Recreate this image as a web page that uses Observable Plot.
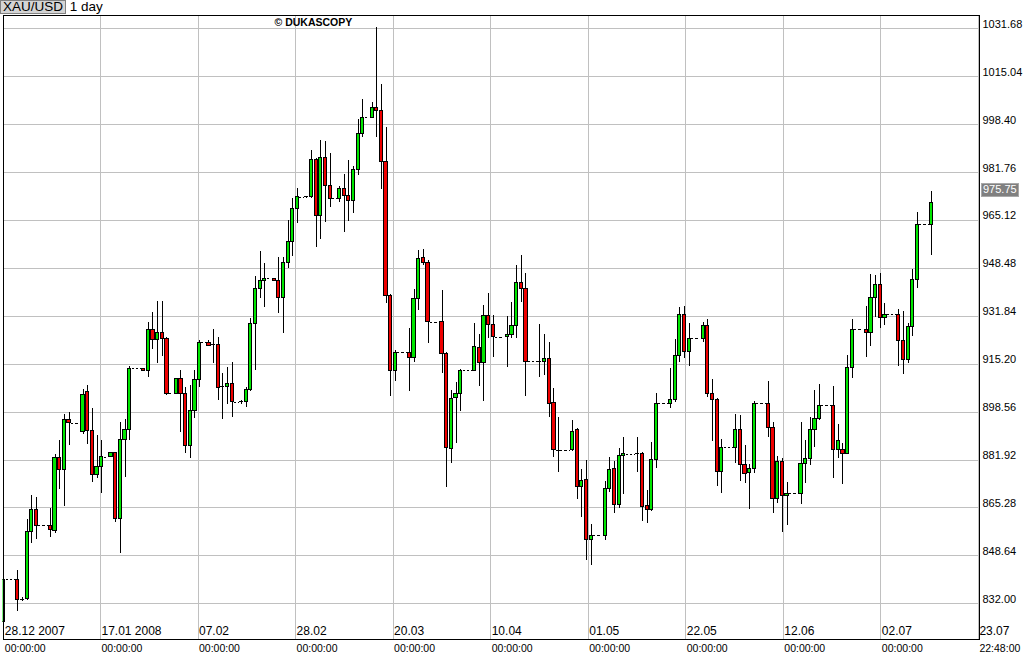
<!DOCTYPE html>
<html>
<head>
<meta charset="utf-8">
<script src="https://cdn.jsdelivr.net/npm/d3@7"></script>
<script src="https://cdn.jsdelivr.net/npm/@observablehq/plot@0.6"></script>
<style>
  html, body { margin: 0; padding: 0; background: #fff; }
  body { width: 1024px; height: 657px; overflow: hidden; font-family: "Liberation Sans", Arial, sans-serif; }
  #title { height: 14px; line-height: 12px; font-size: 13.5px; color: #000; white-space: nowrap; }
  #title .sym { display: inline-block; background: #d4d4d4; border: 1px solid #808080; padding: 0 2px; height: 12px; line-height: 12px; }
  #chart svg { display: block; }
</style>
</head>
<body>
<div id="title"><span class="sym">XAU/USD</span> 1 day</div>
<div id="chart"></div>
<script>
// Daily slots from 28.12.2007 (slot 0) to 14.07.2008 (slot 199); weekend slots are flat
const firstDay = "28.12 2007";
const open = [
825.6,840.4,840.4,840.4,833.4,833.6,857.0,864.75,859.1,859.1,
859.1,857.2,882.7,878.5,895.9,894.7,894.7,891.6,905.5,892.1,
876.9,879.6,882.9,882.9,884.2,861.5,889.0,892.4,913.6,913.6,
913.6,912.8,927.15,923.7,926.1,924.0,904.9,904.9,910.1,904.9,
886.7,899.1,909.55,922.6,922.6,921.5,921.9,907.0,907.2,908.4,
902.0,902.0,902.1,906.1,929.0,941.4,944.0,944.9,944.9,944.0,
938.3,950.4,957.8,969.2,973.2,973.2,973.2,986.2,966.6,986.9,
977.0,972.6,972.6,976.1,973.5,971.8,982.7,995.2,1000.8,1000.8,
1004.2,1003.1,985.35,938.8,912.8,919.2,919.2,919.2,917.4,937.9,
952.1,950.4,929.8,929.8,929.8,918.8,885.8,903.5,904.9,913.0,
913.0,913.0,920.9,915.6,932.0,928.9,924.6,924.6,924.6,925.4,
928.5,943.5,941.4,916.1,916.1,916.1,916.1,917.1,901.8,885.5,
885.4,885.4,885.4,892.2,872.5,875.1,854.2,855.7,855.7,855.7,
871.7,878.8,866.4,883.3,884.0,884.0,884.0,884.1,866.0,864.6,
881.8,901.45,901.45,901.45,902.85,917.9,932.4,919.6,924.0,924.0,
924.0,928.3,904.9,902.8,877.8,886.2,886.2,886.2,892.4,880.3,
877.35,878.9,901.45,901.45,901.45,893.1,868.5,881.2,869.3,870.2,
870.2,870.2,880.6,882.4,892.2,896.2,900.8,900.8,900.8,885.5,
885.5,884.1,914.0,927.15,927.15,927.15,926.1,938.3,942.8,931.3,
932.4,932.4,932.4,923.1,916.5,928.1,944.3,963.6,963.6,963.6
];
const high = [
840.6,840.4,840.4,843.6,834.3,861.3,869.6,868.9,859.1,859.1,
865.2,883.9,888.7,897.7,898.4,894.7,894.7,906.5,907.9,899.7,
890.4,888.7,882.9,884.4,884.5,894.9,896.0,914.4,913.6,913.6,
913.6,929.8,933.2,937.0,937.0,924.5,904.9,910.3,913.0,907.2,
907.8,913.0,923.4,922.6,923.4,927.15,924.6,912.0,914.0,915.9,
902.0,902.6,907.2,931.0,945.7,954.3,950.1,944.9,944.9,952.4,
952.4,965.1,972.6,976.1,973.2,973.6,989.4,986.6,992.9,992.6,
988.3,972.6,976.9,981.1,985.9,983.9,1000.1,1007.1,1000.8,1006.2,
1032.0,1012.3,997.3,939.5,920.0,919.2,919.2,927.7,941.0,954.7,
955.0,951.2,929.8,929.8,940.8,919.3,906.1,908.7,913.5,913.0,
913.0,929.4,925.5,935.6,939.9,932.0,924.6,924.6,931.8,936.7,
949.5,953.0,946.6,916.1,916.1,929.0,925.5,922.6,906.7,896.8,
885.4,885.4,895.7,892.8,878.5,881.8,859.5,855.7,855.7,874.5,
882.9,881.4,885.8,889.6,884.0,884.0,889.6,884.5,871.3,888.1,
904.9,901.45,901.45,913.6,923.7,934.8,935.3,929.3,924.0,924.0,
929.6,930.7,909.8,903.3,889.0,886.2,886.2,897.7,897.4,887.0,
880.4,902.4,901.45,901.45,909.3,894.9,883.1,882.4,874.2,870.2,
870.2,894.9,888.7,896.6,906.0,908.2,900.8,900.8,907.5,894.3,
887.6,918.2,930.6,927.15,927.15,935.3,946.4,946.0,946.6,936.2,
932.4,932.4,934.1,933.5,929.3,948.0,968.0,963.6,963.6,975.2
];
const low = [
825.6,840.4,840.4,829.4,832.8,833.2,853.0,854.2,859.1,859.1,
855.1,856.5,871.8,865.8,887.1,894.7,894.7,890.9,887.3,874.2,
875.6,870.2,882.9,882.9,860.3,849.4,876.0,888.7,913.6,913.6,
912.8,910.7,920.2,915.6,918.0,904.5,904.9,904.7,891.6,884.3,
882.4,896.2,907.2,922.6,921.5,915.6,902.6,896.0,901.3,896.8,
902.0,901.2,900.2,905.8,913.0,937.9,935.0,944.9,944.0,932.7,
926.0,948.5,952.6,964.2,973.2,972.9,972.6,955.8,958.5,964.3,
969.5,972.6,971.2,960.8,964.9,967.6,980.7,993.8,1000.8,1000.6,
993.8,975.9,936.4,904.0,909.3,919.2,919.2,905.8,915.9,933.9,
949.5,922.5,929.8,929.8,912.1,872.5,880.8,887.6,898.9,913.0,
913.0,912.8,907.5,902.4,924.0,917.4,924.6,924.6,914.0,924.0,
924.0,936.7,904.1,916.1,916.1,910.7,911.3,896.6,882.7,877.7,
885.4,885.4,885.0,868.1,861.9,847.0,845.3,855.7,855.7,854.0,
870.7,863.3,865.0,869.9,884.0,884.0,877.5,860.6,859.8,864.0,
879.1,901.45,901.45,899.9,902.0,915.9,917.1,914.5,924.0,924.0,
922.6,903.8,888.5,872.8,870.4,886.2,886.2,880.8,874.6,873.7,
864.6,877.2,901.45,901.45,889.6,863.5,867.0,856.9,859.2,870.2,
870.2,866.5,873.7,880.0,886.4,895.6,900.8,900.8,875.4,882.4,
873.4,883.8,910.1,927.15,927.15,917.6,921.5,931.5,927.5,928.6,
932.4,932.4,914.5,911.6,915.3,924.8,941.4,963.6,963.6,953.0
];
const close = [
840.4,840.4,840.4,833.4,833.6,857.1,864.75,859.1,859.1,859.1,
857.5,882.7,878.5,895.9,894.7,894.7,894.7,904.5,892.1,876.9,
879.6,882.9,882.9,884.2,861.5,889.0,892.4,913.6,913.6,913.6,
912.8,927.15,923.7,926.1,924.0,904.9,904.9,910.1,904.9,886.7,
899.1,909.55,922.6,922.6,921.5,921.9,907.0,907.3,908.4,902.0,
902.0,902.1,906.1,929.0,941.4,944.0,944.9,944.9,944.0,938.3,
950.4,957.8,969.2,973.2,973.2,973.4,986.2,966.6,986.9,977.0,
972.6,972.6,976.1,973.5,971.8,982.7,995.2,1000.8,1000.8,1004.2,
1003.1,985.35,938.8,912.8,919.2,919.2,919.2,917.4,937.9,951.8,
950.4,929.8,929.8,929.8,918.8,886.2,903.2,904.9,913.0,913.0,
913.0,921.35,915.6,932.0,928.9,924.6,924.6,924.6,925.4,928.5,
943.5,941.4,916.1,916.1,916.1,916.3,917.1,901.5,885.5,885.3,
885.4,885.4,891.8,872.5,874.8,854.2,855.7,855.7,855.7,871.7,
878.6,866.4,883.3,884.0,884.0,884.0,884.2,865.5,864.6,881.8,
901.45,901.45,901.45,902.85,917.9,932.4,919.6,924.0,924.0,924.0,
928.6,904.9,902.8,877.7,886.2,886.2,886.2,892.4,880.3,877.15,
878.9,901.45,901.45,901.45,893.1,868.5,881.2,869.3,870.2,870.2,
870.2,880.6,882.4,892.2,896.2,900.8,900.8,900.8,885.5,888.4,
884.1,914.0,927.15,927.15,927.15,926.1,938.3,942.8,931.3,932.4,
932.4,932.4,923.2,916.5,928.1,944.3,963.6,963.6,963.6,971.3
];
const lastPrice = 975.75;

// Axes
const yTicks = [832.00, 848.64, 865.28, 881.92, 898.56, 915.20, 931.84, 948.48, 965.12, 981.76, 998.40, 1015.04, 1031.68];
const xGridDays = [20.74, 41.66, 62.59, 83.51, 104.44, 125.36, 146.28, 167.21, 188.13, 209.06];
const xLabels = [firstDay, "17.01 2008", "07.02", "28.02", "20.03", "10.04", "01.05", "22.05", "12.06", "02.07", "23.07"];
const xLabelDays = [0, ...xGridDays];
const xTimes = ["00:00:00","00:00:00","00:00:00","00:00:00","00:00:00","00:00:00","00:00:00","00:00:00","00:00:00","00:00:00","22:48:00"];

const GREEN = "#00e600", RED = "#ee0000", GRID = "#c0c0c0";

const rows = open.map((o, i) => ({i, o, h: high[i], l: low[i], c: close[i]}));
const flats = rows.filter(d => d.o === d.c && d.h === d.l && d.h === d.o);
const real = rows.filter(d => !flats.includes(d));
const dojis = real.filter(d => Math.abs(d.c - d.o) < 0.5);
const ups = real.filter(d => d.c - d.o >= 0.5);
const downs = real.filter(d => d.o - d.c >= 0.5);

const W = 0.34; // half body width in day slots
const crisp = {shapeRendering: "crispEdges"};

const chart = Plot.plot({
  width: 1024,
  height: 643,
  marginLeft: 2.5,
  marginRight: 45.5,
  marginTop: 0.5,
  marginBottom: 18.5,
  x: {domain: [(2.5 - 3.3) / 4.662, (978.5 - 3.3) / 4.662], axis: null},
  y: {domain: [819.78, 1036.47], axis: null},
  style: {fontFamily: "'Liberation Sans', Arial, sans-serif", background: "#fff", overflow: "visible", color: "#000"},
  marks: [
    Plot.ruleY(yTicks, {y: d => d, stroke: GRID, ...crisp}),
    Plot.ruleX(xGridDays, {x: d => d, stroke: GRID, ...crisp}),
    Plot.ruleY(flats, {y: "c", x1: d => d.i - 0.5, x2: d => d.i + 0.5, stroke: "#000", strokeDasharray: "2,2", clip: true, ...crisp}),
    Plot.ruleX(real, {x: "i", y1: "l", y2: "h", stroke: "#000", strokeWidth: 1, clip: true, ...crisp}),
    Plot.rect(ups, {x1: d => d.i - W, x2: d => d.i + W, y1: "o", y2: "c", fill: GREEN, stroke: "#000", strokeWidth: 1, clip: true, ...crisp}),
    Plot.rect(downs, {x1: d => d.i - W, x2: d => d.i + W, y1: "o", y2: "c", fill: RED, stroke: "#000", strokeWidth: 1, clip: true, ...crisp}),
    Plot.ruleY(dojis, {y: "c", x1: d => d.i - W - 0.1, x2: d => d.i + W + 0.1, stroke: "#000", clip: true, ...crisp}),
    Plot.frame({stroke: "#000", ...crisp}),
    Plot.text(yTicks, {y: d => d, text: d => d.toFixed(2), frameAnchor: "right", textAnchor: "start", lineAnchor: "middle", dx: 3.5, dy: -4.5, fontSize: 11, fill: "#000"}),
    Plot.text([lastPrice], {y: d => d, text: d => d.toFixed(2), frameAnchor: "right", textAnchor: "start", lineAnchor: "middle", dx: 4, fontSize: 11, fill: "#fff"}),
    Plot.text(xLabelDays, {x: d => d, text: (d, k) => xLabels[k], frameAnchor: "bottom", textAnchor: "start", lineAnchor: "middle", dx: 1, dy: -8, fontSize: 12, fill: "#000"}),
    Plot.text(xLabelDays, {x: d => d, text: (d, k) => xTimes[k], frameAnchor: "bottom", textAnchor: "start", lineAnchor: "middle", dx: 1, dy: 9.5, fontSize: 10.5, fill: "#000"}),
    Plot.text(["© DUKASCOPY"], {frameAnchor: "top-left", text: d => d, textAnchor: "start", lineAnchor: "middle", dx: 271.5, dy: 8, fontSize: 10.5, fontWeight: "bold", fill: "#000"})
  ]
});
document.getElementById("chart").appendChild(chart);

// grey background box behind the current price label
const svgEl = chart.tagName.toLowerCase() === "svg" ? chart : chart.querySelector("svg");
const priceText = lastPrice.toFixed(2);
d3.select(svgEl).selectAll("text").filter(function() { return this.textContent === priceText; }).each(function() {
  const b = this.getBBox();
  const r = d3.select(this.parentNode).insert("rect", () => this)
    .attr("x", Math.round(b.x) - 1.5)
    .attr("y", Math.round(b.y) - 0.5)
    .attr("width", Math.ceil(b.width) + 3)
    .attr("height", Math.ceil(b.height) + 1)
    .attr("fill", "#808080")
    .attr("stroke", "#a8a8a8")
    .attr("shape-rendering", "crispEdges");
  const t = this.getAttribute("transform");
  if (t) r.attr("transform", t);
});
</script>
</body>
</html>
